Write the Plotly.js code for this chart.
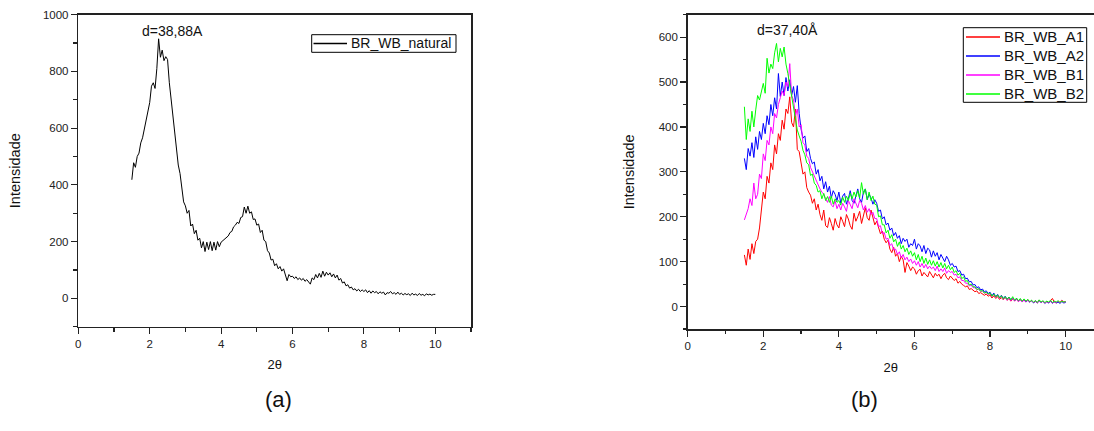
<!DOCTYPE html>
<html>
<head>
<meta charset="utf-8">
<script src="https://cdn.plot.ly/plotly-3.0.1.min.js"></script>
<style>
  html, body { margin: 0; padding: 0; background: #fff; }
  #chart { width: 1094px; height: 431px; }
</style>
</head>
<body>
<div id="chart"></div>
<script>
// 2θ sampling grid (start, step, count) shared by all series
const thetaStart = 1.5;
const thetaStep = 0.05;
const thetaCount = 171;

// (a) BR_WB_natural intensities, 1.50 .. 10.00
const natural = [
  418, 478, 462, 500, 512, 548, 566, 600, 622, 660,
  690, 748, 760, 740, 810, 915, 850, 875, 838, 852, 842, 760, 700, 640, 585, 528, 470, 440, 380, 340,
  326, 300, 310, 255, 262, 228, 240, 205, 212, 178, 200, 165, 198, 172, 200, 168, 198, 170, 200, 182,
  198, 204, 208, 216, 220, 232, 236, 252, 258, 268, 264, 285, 288, 322, 300, 325, 300, 305, 278, 280,
  258, 262, 232, 240, 205, 200, 168, 160, 135, 138, 115, 122, 104, 112, 96, 104, 86, 62, 84, 76,
  78, 70, 76, 66, 72, 64, 70, 60, 66, 56, 50, 72, 66, 84, 72, 88, 74, 96, 78, 92,
  82, 90, 76, 86, 72, 82, 64, 70, 54, 58, 44, 48, 36, 40, 30, 34, 26, 32, 24, 30,
  24, 30, 20, 27, 18, 26, 20, 24, 16, 23, 18, 22, 12, 20, 18, 24, 16, 20, 14, 22,
  14, 18, 12, 17, 13, 16, 10, 18, 12, 15, 10, 17, 11, 14, 9, 16, 12, 15, 11, 14,
  14
];

// (b) series, same grid
const wbA1 = [
  115, 92, 128, 105, 140, 118, 145, 150, 175, 215,
  255, 240, 290, 275, 320, 305, 360, 340, 385, 370, 415, 395, 440, 430, 467, 410, 400, 440, 350, 345,
  320, 295, 300, 265, 255, 248, 230, 240, 215, 228, 205, 192, 215, 180, 176, 198, 185, 170, 196, 182,
  175, 200, 190, 178, 205, 195, 180, 172, 208, 190, 200, 212, 185, 205, 220, 198, 192, 215, 200, 182,
  190, 175, 162, 168, 150, 142, 148, 128, 120, 132, 112, 118, 100, 112, 104, 76, 98, 90, 80, 88,
  84, 72, 80, 83, 68, 76, 72, 66, 78, 70, 64, 74, 68, 72, 62, 70, 74, 64, 60, 68,
  64, 58, 62, 52, 56, 50, 47, 44, 46, 38, 40, 36, 33, 35, 29, 31, 27, 25, 28, 23,
  26, 19, 24, 18, 22, 16, 20, 15, 21, 14, 18, 12, 17, 13, 16, 11, 15, 12, 14, 10,
  15, 10, 13, 9, 12, 8, 14, 9, 12, 8, 11, 9, 13, 18, 10, 8, 12, 9, 14, 10,
  11
];
const wbA2 = [
  330, 305, 352, 335, 365, 332, 378, 350, 390, 372,
  408, 385, 425, 405, 450, 425, 465, 440, 519, 468, 500, 470, 510, 480, 505, 470, 490, 455, 492, 430,
  395, 375, 380, 345, 352, 330, 318, 322, 295, 305, 280, 290, 262, 278, 255, 268, 242, 258, 250, 236,
  255, 230, 246, 252, 228, 240, 258, 236, 230, 250, 262, 240, 232, 255, 262, 238, 250, 242, 228, 238,
  230, 212, 215, 195, 200, 182, 186, 170, 175, 158, 165, 152, 158, 140, 152, 145, 150, 132, 140, 136,
  150, 128, 140, 135, 122, 136, 118, 130, 126, 110, 124, 112, 120, 104, 116, 108, 100, 112, 104, 92,
  96, 88, 90, 78, 80, 70, 72, 62, 63, 55, 56, 48, 49, 42, 44, 37, 39, 33, 35, 29,
  32, 24, 30, 22, 27, 20, 25, 18, 23, 16, 21, 15, 19, 13, 18, 12, 16, 11, 15, 10,
  14, 10, 13, 8, 12, 8, 13, 9, 12, 7, 11, 8, 12, 7, 11, 8, 10, 7, 11, 8,
  9
];
const wbB1 = [
  193, 205, 218, 240, 225, 275, 240, 250, 295, 285,
  340, 325, 370, 360, 400, 385, 430, 420, 450, 465, 480, 470, 500, 490, 541, 470, 460, 425, 440, 400,
  405, 365, 360, 335, 330, 310, 300, 290, 278, 270, 262, 255, 250, 240, 232, 245, 226, 222, 236, 218,
  228, 215, 230, 222, 212, 236, 225, 218, 240, 228, 220, 236, 230, 215, 225, 210, 218, 205, 210, 196,
  196, 178, 180, 162, 165, 150, 152, 136, 140, 126, 128, 116, 122, 108, 116, 104, 110, 100, 106, 96,
  102, 92, 100, 88, 96, 86, 94, 84, 90, 84, 88, 80, 90, 78, 84, 78, 86, 74, 80, 76,
  78, 70, 72, 64, 66, 58, 58, 52, 52, 46, 48, 42, 42, 38, 38, 34, 34, 30, 31, 27,
  29, 22, 27, 20, 25, 18, 23, 16, 21, 14, 19, 13, 18, 12, 17, 11, 16, 10, 15, 11,
  14, 10, 13, 9, 12, 8, 14, 9, 12, 8, 11, 9, 12, 8, 11, 9, 12, 8, 13, 9,
  11
];
const wbB2 = [
  445, 372, 418, 390, 435, 400, 438, 470, 460, 482,
  497, 475, 553, 520, 540, 530, 565, 586, 545, 575, 556, 578, 540, 519, 495, 465, 445, 420, 393, 380,
  368, 348, 338, 320, 316, 292, 295, 275, 270, 255, 258, 240, 252, 236, 245, 232, 246, 228, 240, 232,
  236, 226, 244, 232, 246, 236, 252, 240, 255, 244, 258, 242, 276, 250, 262, 238, 255, 236, 246, 228,
  226, 200, 202, 182, 182, 164, 170, 152, 160, 144, 150, 134, 144, 128, 136, 122, 130, 116, 124, 112,
  120, 104, 116, 100, 112, 96, 108, 94, 104, 92, 102, 90, 100, 88, 98, 86, 96, 84, 92, 82,
  88, 76, 80, 70, 74, 62, 66, 56, 58, 48, 50, 44, 44, 38, 40, 34, 36, 30, 32, 28,
  30, 23, 28, 21, 26, 19, 24, 17, 22, 16, 21, 15, 22, 14, 19, 13, 18, 12, 17, 12,
  16, 11, 14, 10, 13, 9, 15, 10, 13, 9, 12, 10, 14, 9, 12, 10, 13, 9, 12, 10,
  11
];

const seriesNameA = 'BR_WB_natural';
const seriesNamesB = ['BR_WB_A1', 'BR_WB_A2', 'BR_WB_B1', 'BR_WB_B2'];
const seriesB = [wbA1, wbA2, wbB1, wbB2];
const colorsB = ['#ff0000', '#0000ff', '#ff00ff', '#00ff00'];

const peakLabelA = 'd=38,88A';
const peakLabelB = 'd=37,40Å';

const twoTheta = [];
for (let i = 0; i < thetaCount; i++) twoTheta.push(+(thetaStart + i * thetaStep).toFixed(2));

const FONT = 'Arial, "Liberation Sans", sans-serif';
const W = 1094, H = 431;
const px = v => v / W;
const py = v => 1 - v / H;

const traces = [{
  x: twoTheta, y: natural, type: 'scatter', mode: 'lines', name: seriesNameA,
  line: { color: '#000', width: 1 }, xaxis: 'x', yaxis: 'y'
}];
seriesB.forEach((s, i) => traces.push({
  x: twoTheta, y: s, type: 'scatter', mode: 'lines', name: seriesNamesB[i],
  line: { color: colorsB[i], width: 1 }, xaxis: 'x2', yaxis: 'y2'
}));

const axisBase = {
  showgrid: false, zeroline: false, showline: true, linecolor: '#222', linewidth: 1.5,
  ticks: 'outside', ticklen: 6, tickwidth: 1.2, tickcolor: '#222',
  tickfont: { family: FONT, size: 11.5, color: '#222' }
};
const minorTicks = d => ({ dtick: d, ticks: 'outside', ticklen: 3.5, tickcolor: '#222', tickwidth: 1.2 });

// hand-drawn legend boxes (pixel geometry)
const shapes = [];
const annotations = [];
function legendBox(x0, y0, x1, y1) {
  shapes.push({ type: 'rect', xref: 'paper', yref: 'paper', x0: px(x0), x1: px(x1), y0: py(y1), y1: py(y0),
    line: { color: '#000', width: 1 }, fillcolor: 'rgba(255,255,255,0)' });
}
function legendRow(lx0, lx1, y, color, text, size) {
  shapes.push({ type: 'line', xref: 'paper', yref: 'paper', x0: px(lx0), x1: px(lx1), y0: py(y), y1: py(y),
    line: { color: color, width: 1.5 } });
  annotations.push({ xref: 'paper', yref: 'paper', x: px(lx1 + 3), y: py(y), xanchor: 'left', yanchor: 'middle',
    text: text, showarrow: false, borderpad: 0, font: { family: FONT, size: size, color: '#111' } });
}
legendBox(311.7, 34.7, 456, 52.3);
legendRow(313.5, 347, 43.5, '#000', seriesNameA, 14);
legendBox(963.3, 27.7, 1086.7, 102.3);
seriesNamesB.forEach((n, i) => legendRow(966, 1000, 36.9 + 19 * i, colorsB[i], n, 15));

annotations.push(
  { xref: 'x', yref: 'y', x: 2.65, y: 943, text: peakLabelA, showarrow: false,
    font: { family: FONT, size: 14, color: '#111' } },
  { xref: 'x2', yref: 'y2', x: 2.63, y: 615, text: peakLabelB, showarrow: false,
    font: { family: FONT, size: 14, color: '#111' } },
  { xref: 'paper', yref: 'paper', x: px(263), y: py(414), text: '(a)', showarrow: false,
    font: { family: FONT, size: 22, color: '#111' } },
  { xref: 'paper', yref: 'paper', x: px(880), y: py(414), text: '(b)', showarrow: false,
    font: { family: FONT, size: 22, color: '#111' } }
);

const layout = {
  width: W, height: H,
  margin: { l: 0, r: 0, t: 0, b: 0 },
  paper_bgcolor: '#fff', plot_bgcolor: '#fff',
  showlegend: false,
  font: { family: FONT, color: '#111' },
  xaxis: Object.assign({}, axisBase, {
    domain: [px(78.3), px(471)], range: [0, 11], tick0: 0, dtick: 2, anchor: 'y', mirror: true,
    minor: minorTicks(1),
    title: { text: '2θ', font: { family: FONT, size: 13, color: '#111' }, standoff: 11 }
  }),
  yaxis: Object.assign({}, axisBase, {
    domain: [py(326.7), py(14.7)], range: [-100, 1000], tick0: 0, dtick: 200, anchor: 'x', mirror: true,
    minor: minorTicks(100),
    title: { text: 'Intensidade', font: { family: FONT, size: 14.5, color: '#111' }, standoff: 19 }
  }),
  xaxis2: Object.assign({}, axisBase, {
    domain: [px(687.7), 1], range: [0, 10.75], tick0: 0, dtick: 2, anchor: 'y2', mirror: true,
    minor: minorTicks(1),
    title: { text: '2θ', font: { family: FONT, size: 13, color: '#111' }, standoff: 11 }
  }),
  yaxis2: Object.assign({}, axisBase, {
    domain: [py(329), py(14.7)], range: [-50, 650], tick0: 0, dtick: 100, anchor: 'x2', mirror: false,
    minor: minorTicks(50),
    title: { text: 'Intensidade', font: { family: FONT, size: 14.5, color: '#111' }, standoff: 20 }
  }),
  shapes: shapes,
  annotations: annotations
};

Plotly.newPlot('chart', traces, layout, { displayModeBar: false, staticPlot: true });
</script>
</body>
</html>
